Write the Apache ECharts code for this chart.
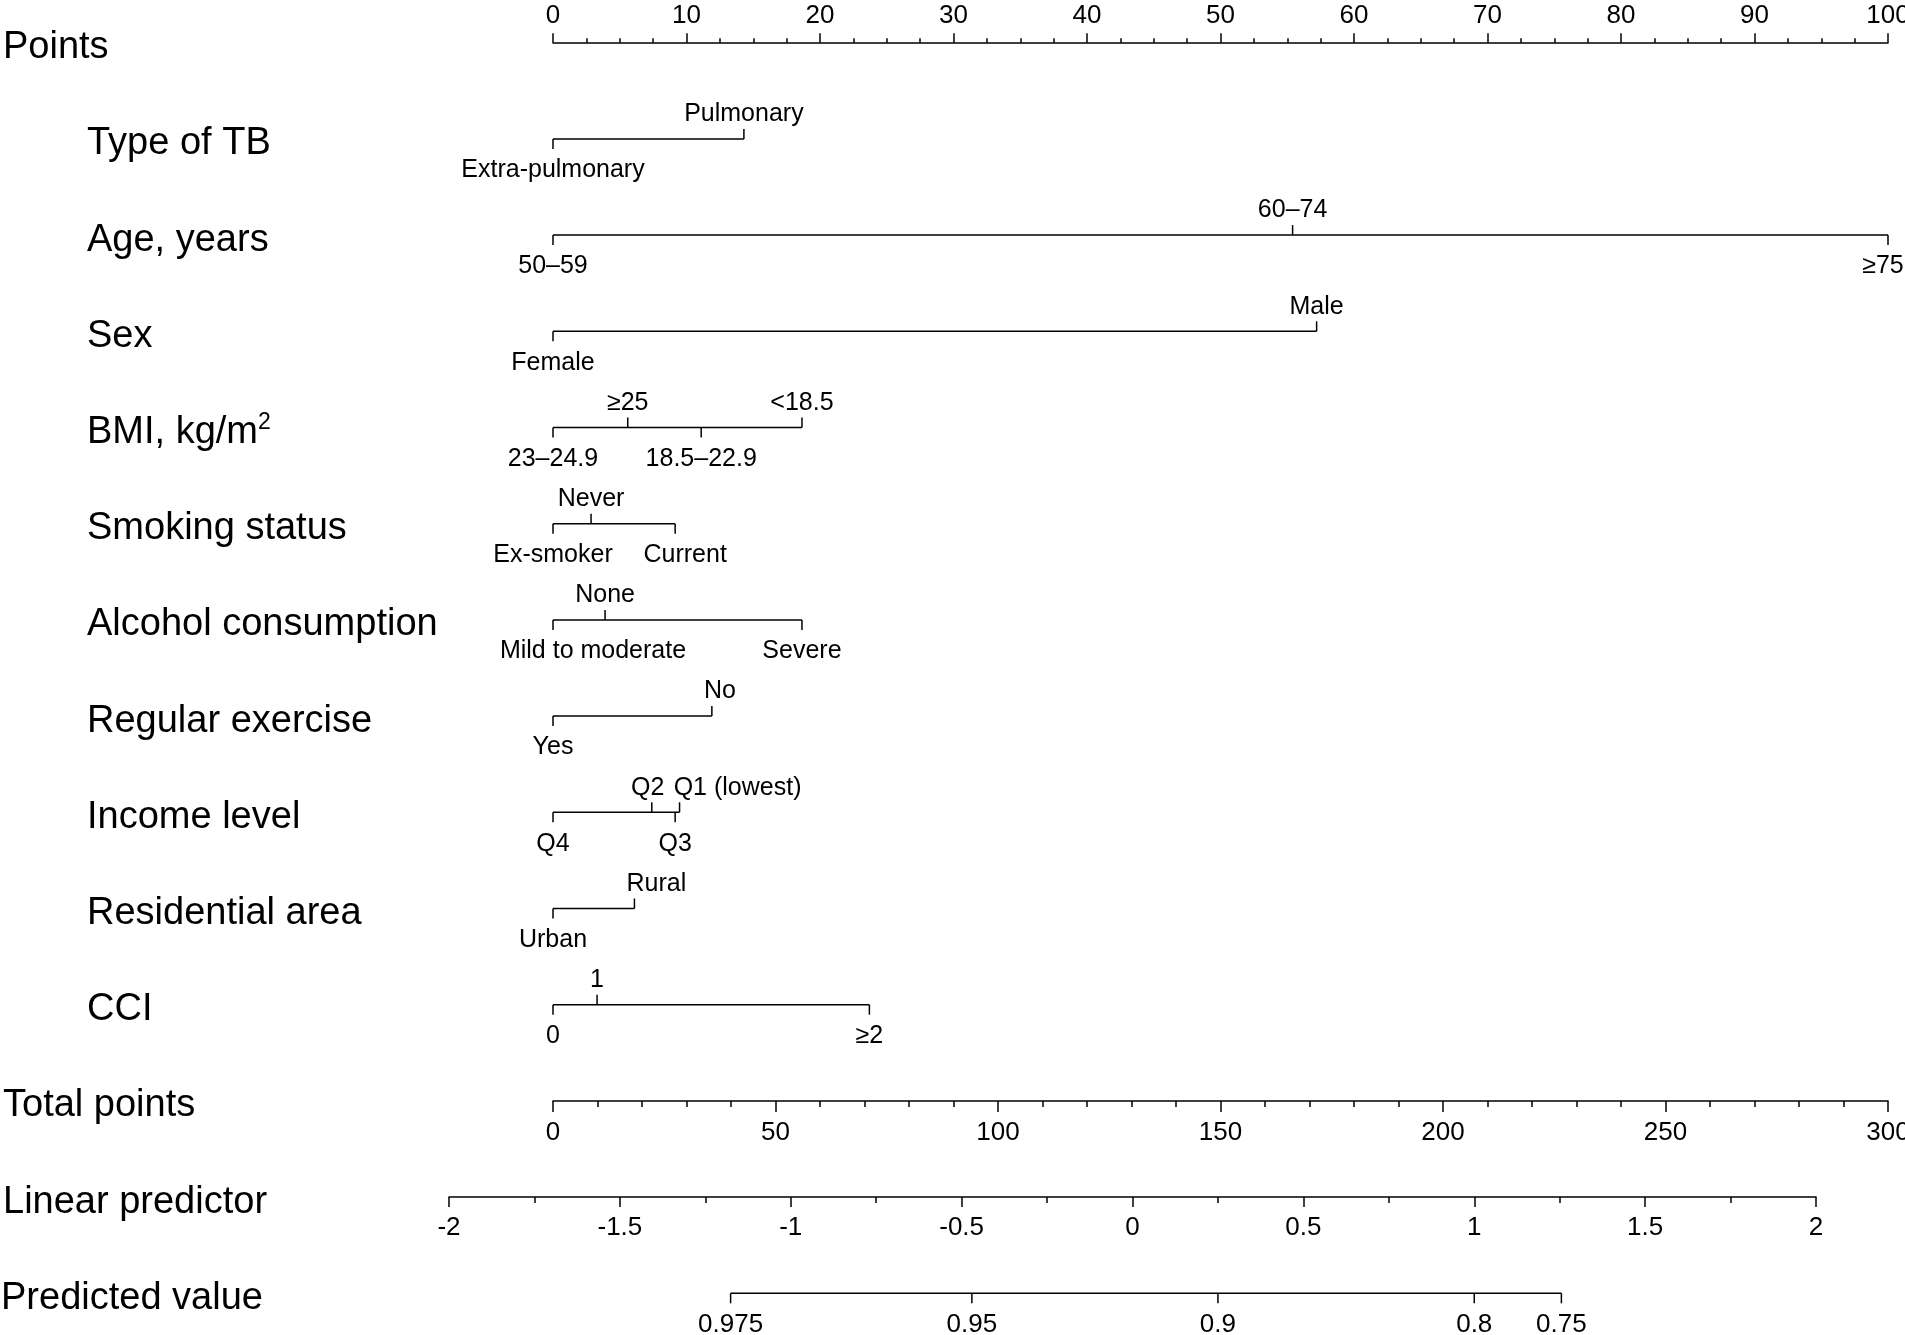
<!DOCTYPE html>
<html>
<head>
<meta charset="utf-8">
<script src="https://cdn.jsdelivr.net/npm/echarts@6/dist/echarts.min.js"></script>
<style>
html,body{margin:0;padding:0;background:#fff;}
#chart{width:1905px;height:1335px;}
</style>
</head>
<body>
<div id="chart"></div>
<script>
// ---------------- DATA ----------------
const pointsRange = [0, 100];
const pointsStep = 10;
const totalPointsRange = [0, 300];
const totalPointsStep = 50;
const linearPredictorRange = [-2, 2];
const linearPredictorStep = 0.5;

const variableNames = ['Type of TB', 'Age, years', 'Sex', 'BMI, kg/m²', 'Smoking status',
  'Alcohol consumption', 'Regular exercise', 'Income level', 'Residential area', 'CCI'];

const typeOfTBLevels = ['Extra-pulmonary', 'Pulmonary'];
const typeOfTBPoints = [0, 14.3];
const ageLevels = ['50–59', '60–74', '≥75'];
const agePoints = [0, 55.4, 100];
const sexLevels = ['Female', 'Male'];
const sexPoints = [0, 57.2];
const bmiLevels = ['23–24.9', '≥25', '18.5–22.9', '<18.5'];
const bmiPoints = [0, 5.6, 11.1, 18.65];
const smokingLevels = ['Ex-smoker', 'Never', 'Current'];
const smokingPoints = [0, 2.85, 9.15];
const alcoholLevels = ['Mild to moderate', 'None', 'Severe'];
const alcoholPoints = [0, 3.9, 18.65];
const exerciseLevels = ['Yes', 'No'];
const exercisePoints = [0, 11.9];
const incomeLevels = ['Q4', 'Q2', 'Q3', 'Q1 (lowest)'];
const incomePoints = [0, 7.4, 9.15, 9.48];
const areaLevels = ['Urban', 'Rural'];
const areaPoints = [0, 6.1];
const cciLevels = ['0', '1', '≥2'];
const cciPoints = [0, 3.3, 23.7];

const predictedLabels = ['0.975', '0.95', '0.9', '0.8', '0.75'];
const predictedAtLinearPredictor = [-1.176, -0.470, 0.250, 1.000, 1.255];

const axisTitles = ['Points', 'Total points', 'Linear predictor', 'Predicted value'];

// ---------------- LAYOUT / STYLE ----------------
const FONT = '"Liberation Sans", Arial, Helvetica, sans-serif';
const INK = '#000';
const LW = 1.5;
const ROW_GAP = 96.2;
const TOP = 42.7;
const TITLE_SIZE = 38;
const LEVEL_SIZE = 25;
const TICK_LABEL_SIZE = 26;
// pixel nudges for labels that the original shifted sideways to avoid overlaps
const labelNudge = {'Mild to moderate': 40, 'Current': 10, 'No': 8, 'Rural': 22, 'Q1 (lowest)': 58, 'Q2': -4, '≥75': -5};

const variableLevels = [typeOfTBLevels, ageLevels, sexLevels, bmiLevels, smokingLevels,
  alcoholLevels, exerciseLevels, incomeLevels, areaLevels, cciLevels];
const variablePoints = [typeOfTBPoints, agePoints, sexPoints, bmiPoints, smokingPoints,
  alcoholPoints, exercisePoints, incomePoints, areaPoints, cciPoints];

function txt(x, y, text, size, align) {
  return {type: 'text', x: x, y: y, silent: true,
    style: {text: text, fill: INK, fontSize: size, fontFamily: FONT,
      align: align || 'center', verticalAlign: 'middle'}};
}
function titleText(x, y, text) {
  if (text.slice(-1) === '²') {
    return {type: 'text', x: x, y: y, silent: true,
      style: {text: '{m|' + text.slice(0, -1) + '}{s|2}', fill: INK, fontSize: TITLE_SIZE, fontFamily: FONT,
        align: 'left', verticalAlign: 'middle',
        rich: {
          m: {fontSize: TITLE_SIZE, fontFamily: FONT, fill: INK, lineHeight: 42},
          s: {fontSize: 23, fontFamily: FONT, fill: INK, verticalAlign: 'top', lineHeight: 23}
        }}};
  }
  return txt(x, y, text, TITLE_SIZE, 'left');
}
function seg(x1, y1, x2, y2) {
  return {type: 'line', silent: true, shape: {x1: x1, y1: y1, x2: x2, y2: y2},
    style: {stroke: INK, lineWidth: LW}};
}

function renderVariable(params, api) {
  const i = params.dataIndex;
  const row = api.value(1);
  const levels = variableLevels[i];
  const pts = variablePoints[i];
  const y = api.coord([0, row])[1];
  const xs = pts.map(p => api.coord([p, row])[0]);
  const children = [];
  children.push(seg(Math.min.apply(null, xs), y, Math.max.apply(null, xs), y));
  const order = pts.map((p, k) => k).sort((a, b) => pts[a] - pts[b]);
  order.forEach((k, rank) => {
    const up = rank % 2 === 1;
    const x = xs[k];
    children.push(seg(x, y, x, up ? y - 10 : y + 10));
    const nx = x + (labelNudge[levels[k]] || 0);
    children.push(txt(nx, up ? y - 24.5 : y + 31.5, levels[k], LEVEL_SIZE));
  });
  children.push(titleText(87, y + 5, variableNames[i]));
  return {type: 'group', children: children};
}

function renderTitle(params, api, offset) {
  const row = api.value(1);
  const y = api.coord([api.value(0), row])[1];
  const name = axisTitles[params.dataIndex + offset];
  return titleText(name === 'Predicted value' ? 1 : 3, y + 5, name);
}

function renderPredicted(params, api) {
  const row = api.value(1);
  const y = api.coord([0, row])[1];
  const xs = predictedAtLinearPredictor.map(v => api.coord([v, row])[0]);
  const children = [seg(Math.min.apply(null, xs), y, Math.max.apply(null, xs), y)];
  xs.forEach((x, k) => {
    children.push(seg(x, y, x, y + 10));
    children.push(txt(x, y + 31.7, predictedLabels[k], TICK_LABEL_SIZE));
  });
  return {type: 'group', children: children};
}

function axisCfg(o) {
  return Object.assign({
    type: 'value',
    axisLine: {show: true, onZero: false, lineStyle: {color: INK, width: LW}},
    splitLine: {show: false},
    minorSplitLine: {show: false},
  }, o);
}
function labelCfg(margin) {
  return {show: true, margin: margin, verticalAlign: 'middle', fontSize: TICK_LABEL_SIZE, color: INK,
    fontFamily: FONT, showMinLabel: true, showMaxLabel: true};
}

const chart = echarts.init(document.getElementById('chart'), null, {renderer: 'canvas'});
chart.setOption({
  animation: false,
  backgroundColor: '#fff',
  grid: [
    {left: 553, width: 1335, top: TOP, height: ROW_GAP * 11, containLabel: false, outerBoundsMode: 'none'},
    {left: 449, width: 1367, top: TOP + ROW_GAP * 11, height: ROW_GAP, containLabel: false, outerBoundsMode: 'none'}
  ],
  xAxis: [
    axisCfg({gridIndex: 0, position: 'top', min: pointsRange[0], max: pointsRange[1], interval: pointsStep,
      axisTick: {show: true, length: 9.5, lineStyle: {color: INK, width: LW}},
      minorTick: {show: true, splitNumber: 4, length: 4.5, lineStyle: {color: INK, width: LW}},
      axisLabel: labelCfg(27)}),
    axisCfg({gridIndex: 0, position: 'bottom', min: totalPointsRange[0], max: totalPointsRange[1], interval: totalPointsStep,
      axisTick: {show: true, length: 11, lineStyle: {color: INK, width: LW}},
      minorTick: {show: true, splitNumber: 5, length: 6, lineStyle: {color: INK, width: LW}},
      axisLabel: labelCfg(32)}),
    axisCfg({gridIndex: 1, position: 'bottom', min: linearPredictorRange[0], max: linearPredictorRange[1], interval: linearPredictorStep,
      axisTick: {show: true, length: 10, lineStyle: {color: INK, width: LW}},
      minorTick: {show: true, splitNumber: 2, length: 6, lineStyle: {color: INK, width: LW}},
      axisLabel: labelCfg(31)})
  ],
  yAxis: [
    {gridIndex: 0, type: 'value', min: 0, max: 11, inverse: true, show: false},
    {gridIndex: 1, type: 'value', min: 11, max: 12, inverse: true, show: false}
  ],
  series: [
    {type: 'custom', name: 'variables', xAxisIndex: 0, yAxisIndex: 0, clip: false, silent: true,
      data: variableNames.map((n, i) => [0, i + 1]), encode: {x: 0, y: 1}, renderItem: renderVariable},
    {type: 'custom', name: 'titlesTop', xAxisIndex: 0, yAxisIndex: 0, clip: false, silent: true,
      data: [[0, 0], [0, 11]], encode: {x: 0, y: 1},
      renderItem: function (params, api) { return renderTitle(params, api, 0); }},
    {type: 'custom', name: 'titlesBottom', xAxisIndex: 2, yAxisIndex: 1, clip: false, silent: true,
      data: [[0, 12], [0, 13]], encode: {x: 0, y: 1},
      renderItem: function (params, api) { return renderTitle(params, api, 2); }},
    {type: 'custom', name: 'predicted', xAxisIndex: 2, yAxisIndex: 1, clip: false, silent: true,
      data: [[predictedAtLinearPredictor[0], 13]], encode: {x: 0, y: 1}, renderItem: renderPredicted}
  ]
});
</script>
</body>
</html>
